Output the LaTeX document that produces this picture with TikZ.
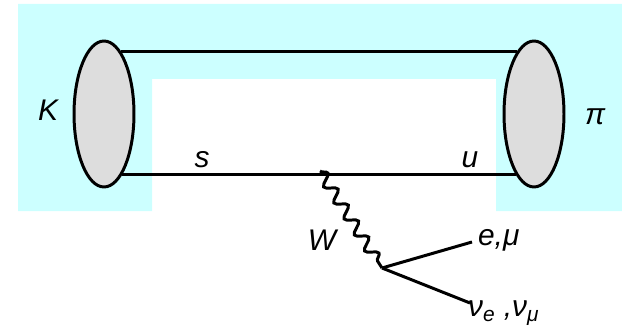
\documentclass[tikz,border=0pt]{standalone}
\usepackage{fontspec}
\setmainfont{Liberation Sans}
\usetikzlibrary{shapes.geometric,decorations.pathmorphing}
\definecolor{bgcyan}{HTML}{CCFFFF}
\definecolor{blobgray}{HTML}{DDDDDD}
\begin{document}
\begin{tikzpicture}[
    x=0.02cm,y=-0.02cm,
    hadron/.style={ellipse,draw=black,line width=1.7pt,fill=blobgray,
                   minimum width=1.2cm,minimum height=2.92cm,inner sep=0pt},
    quark/.style={draw=black,line width=1.7pt},
    lepton/.style={draw=black,line width=1.7pt},
    boson/.style={draw=black,line width=1.7pt,
                  decorate,decoration={snake,segment length=0.38cm,amplitude=0.11cm}},
    lbl/.style={font=\fontsize{17}{20}\selectfont\itshape,inner sep=1pt}
  ]
    \useasboundingbox (0,0) rectangle (622,331);
    % background
    \fill[bgcyan] (18,4) -- (622,4) -- (622,211) -- (496,211) -- (496,79)
      -- (152,79) -- (152,211) -- (18,211) -- cycle;

    \node[hadron] (kaon) at (104,114) {};
    \node[hadron] (pion) at (534,114) {};

    \draw[quark] (kaon.75) -- (pion.105);
    \draw[quark] (kaon.-73) -- (pion.-107);

    \coordinate (wtop) at (320,171);
    \coordinate (vtx) at (382,268);
    \coordinate (lep) at (472,242);
    \coordinate (neu) at (470,303);

    \draw[boson] (wtop) -- (vtx);
    \draw[lepton] (vtx) -- (lep);
    \draw[lepton] (vtx) -- (neu);

    \node[lbl] (klbl) at (48,110) {K};
    \node[lbl] (pilbl) at (595,117) {π};
    \node[lbl] (slbl) at (202,160) {s};
    \node[lbl] (ulbl) at (470,160) {u};
    \node[lbl] (wlbl) at (322,240) {W};
    \node[lbl,anchor=west] (elbl) at (476,240) {e,μ};
    \node[lbl,anchor=west] (nulbl) at (466,313) {ν\textsubscript{e} ,ν\textsubscript{μ}};
  \end{tikzpicture}
\end{document}
